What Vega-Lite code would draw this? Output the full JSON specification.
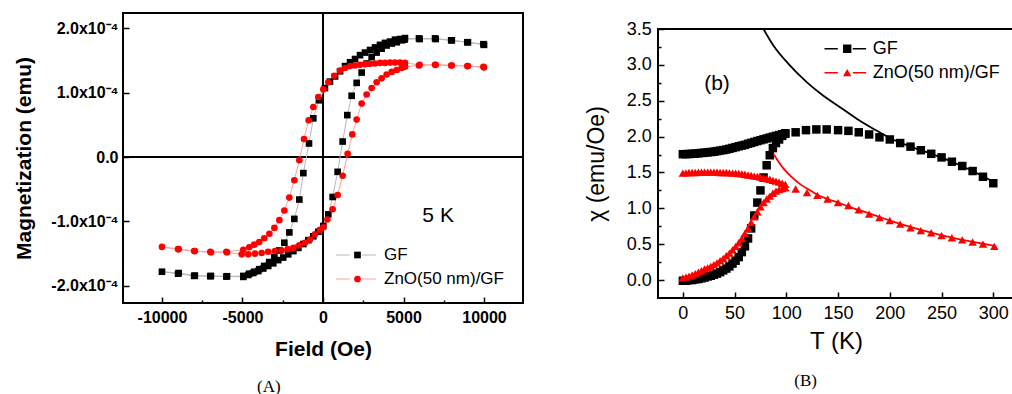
{
  "$schema": "https://vega.github.io/schema/vega-lite/v6.json",
  "padding": {"left": 12, "top": 11, "right": 0, "bottom": 0},
  "background": "white",
  "spacing": 59,
  "resolve": {"scale": {"color": "independent", "shape": "independent", "stroke": "independent"}, "legend": {"color": "independent", "stroke": "independent", "shape": "independent"}},
  "config": {
    "view": {"stroke": "black", "strokeWidth": 2},
    "axis": {"domain": false, "grid": false, "tickColor": "black", "tickWidth": 1.5, "labelColor": "black", "titleColor": "black", "labelFont": "Liberation Sans", "titleFont": "Liberation Sans"},
    "legend": {"labelFont": "Liberation Sans", "labelColor": "black"},
    "text": {"font": "Liberation Sans", "color": "black"},
    "title": {"font": "Liberation Serif", "color": "black"}
  },
  "hconcat": [
    {
      "width": 400,
      "height": 290,
      "title": {"text": "(A)", "orient": "bottom", "anchor": "middle", "frame": "bounds", "font": "Liberation Serif", "fontSize": 17, "fontWeight": "normal", "offset": 20},
      "data": {"values": [
        {"s":"GF","i":0,"H":10000,"M":1.74e-4},{"s":"GF","i":1,"H":9000,"M":1.78e-4},{"s":"GF","i":2,"H":8000,"M":1.81e-4},{"s":"GF","i":3,"H":7000,"M":1.83e-4},{"s":"GF","i":4,"H":6000,"M":1.83e-4},
        {"s":"GF","i":5,"H":5090,"M":1.845e-4},{"s":"GF","i":6,"H":4780,"M":1.83e-4},{"s":"GF","i":7,"H":4470,"M":1.82e-4},{"s":"GF","i":8,"H":4160,"M":1.79e-4},{"s":"GF","i":9,"H":3850,"M":1.77e-4},
        {"s":"GF","i":10,"H":3540,"M":1.74e-4},{"s":"GF","i":11,"H":3230,"M":1.70e-4},{"s":"GF","i":12,"H":2920,"M":1.66e-4},{"s":"GF","i":13,"H":2610,"M":1.62e-4},{"s":"GF","i":14,"H":2300,"M":1.58e-4},
        {"s":"GF","i":15,"H":1990,"M":1.52e-4},{"s":"GF","i":16,"H":1680,"M":1.47e-4},{"s":"GF","i":17,"H":1370,"M":1.41e-4},{"s":"GF","i":18,"H":1060,"M":1.33e-4},{"s":"GF","i":19,"H":750,"M":1.25e-4},
        {"s":"GF","i":20,"H":430,"M":1.17e-4},{"s":"GF","i":21,"H":120,"M":1.07e-4},{"s":"GF","i":22,"H":-250,"M":0.88e-4},{"s":"GF","i":23,"H":-600,"M":0.60e-4},{"s":"GF","i":24,"H":-870,"M":0.21e-4},
        {"s":"GF","i":25,"H":-1220,"M":-0.25e-4},{"s":"GF","i":26,"H":-1470,"M":-0.66e-4},{"s":"GF","i":27,"H":-1780,"M":-0.96e-4},{"s":"GF","i":28,"H":-2090,"M":-1.17e-4},{"s":"GF","i":29,"H":-2400,"M":-1.33e-4},
        {"s":"GF","i":30,"H":-2710,"M":-1.45e-4},{"s":"GF","i":31,"H":-3020,"M":-1.55e-4},{"s":"GF","i":32,"H":-3340,"M":-1.63e-4},{"s":"GF","i":33,"H":-3650,"M":-1.69e-4},{"s":"GF","i":34,"H":-3960,"M":-1.74e-4},
        {"s":"GF","i":35,"H":-4270,"M":-1.78e-4},{"s":"GF","i":36,"H":-4580,"M":-1.81e-4},{"s":"GF","i":37,"H":-4950,"M":-1.845e-4},{"s":"GF","i":38,"H":-6000,"M":-1.855e-4},{"s":"GF","i":39,"H":-7000,"M":-1.85e-4},
        {"s":"GF","i":40,"H":-8000,"M":-1.845e-4},{"s":"GF","i":41,"H":-9000,"M":-1.81e-4},{"s":"GF","i":42,"H":-10000,"M":-1.78e-4},{"s":"GF","i":43,"H":-8960,"M":-1.80e-4},{"s":"GF","i":44,"H":-7960,"M":-1.84e-4},
        {"s":"GF","i":45,"H":-6960,"M":-1.845e-4},{"s":"GF","i":46,"H":-5960,"M":-1.85e-4},{"s":"GF","i":47,"H":-4950,"M":-1.86e-4},{"s":"GF","i":48,"H":-4640,"M":-1.83e-4},{"s":"GF","i":49,"H":-4330,"M":-1.80e-4},
        {"s":"GF","i":50,"H":-4020,"M":-1.77e-4},{"s":"GF","i":51,"H":-3710,"M":-1.73e-4},{"s":"GF","i":52,"H":-3400,"M":-1.69e-4},{"s":"GF","i":53,"H":-3090,"M":-1.65e-4},{"s":"GF","i":54,"H":-2780,"M":-1.60e-4},
        {"s":"GF","i":55,"H":-2470,"M":-1.56e-4},{"s":"GF","i":56,"H":-2160,"M":-1.51e-4},{"s":"GF","i":57,"H":-1840,"M":-1.46e-4},{"s":"GF","i":58,"H":-1530,"M":-1.41e-4},{"s":"GF","i":59,"H":-1220,"M":-1.35e-4},
        {"s":"GF","i":60,"H":-910,"M":-1.29e-4},{"s":"GF","i":61,"H":-600,"M":-1.23e-4},{"s":"GF","i":62,"H":-290,"M":-1.16e-4},{"s":"GF","i":63,"H":20,"M":-1.07e-4},{"s":"GF","i":64,"H":330,"M":-0.89e-4},
        {"s":"GF","i":65,"H":600,"M":-0.62e-4},{"s":"GF","i":66,"H":910,"M":-0.23e-4},{"s":"GF","i":67,"H":1220,"M":0.24e-4},{"s":"GF","i":68,"H":1510,"M":0.65e-4},{"s":"GF","i":69,"H":1780,"M":0.95e-4},
        {"s":"GF","i":70,"H":2090,"M":1.15e-4},{"s":"GF","i":71,"H":2400,"M":1.31e-4},{"s":"GF","i":72,"H":2710,"M":1.45e-4},{"s":"GF","i":73,"H":3020,"M":1.55e-4},{"s":"GF","i":74,"H":3330,"M":1.62e-4},
        {"s":"GF","i":75,"H":3640,"M":1.68e-4},{"s":"GF","i":76,"H":3950,"M":1.73e-4},{"s":"GF","i":77,"H":4270,"M":1.76e-4},{"s":"GF","i":78,"H":4580,"M":1.78e-4},{"s":"GF","i":79,"H":4890,"M":1.81e-4},
        {"s":"GF","i":80,"H":5060,"M":1.82e-4},{"s":"GF","i":81,"H":5960,"M":1.84e-4},{"s":"GF","i":82,"H":6960,"M":1.84e-4},{"s":"GF","i":83,"H":7960,"M":1.81e-4},{"s":"GF","i":84,"H":8960,"M":1.78e-4},
        {"s":"GF","i":85,"H":9960,"M":1.75e-4},
        {"s":"ZnO(50 nm)/GF","i":0,"H":10000,"M":1.39e-4},{"s":"ZnO(50 nm)/GF","i":1,"H":9000,"M":1.41e-4},{"s":"ZnO(50 nm)/GF","i":2,"H":8000,"M":1.42e-4},{"s":"ZnO(50 nm)/GF","i":3,"H":7000,"M":1.43e-4},{"s":"ZnO(50 nm)/GF","i":4,"H":6000,"M":1.43e-4},
        {"s":"ZnO(50 nm)/GF","i":5,"H":5090,"M":1.46e-4},{"s":"ZnO(50 nm)/GF","i":6,"H":4780,"M":1.465e-4},{"s":"ZnO(50 nm)/GF","i":7,"H":4470,"M":1.465e-4},{"s":"ZnO(50 nm)/GF","i":8,"H":4160,"M":1.465e-4},{"s":"ZnO(50 nm)/GF","i":9,"H":3850,"M":1.46e-4},
        {"s":"ZnO(50 nm)/GF","i":10,"H":3540,"M":1.46e-4},{"s":"ZnO(50 nm)/GF","i":11,"H":3230,"M":1.45e-4},{"s":"ZnO(50 nm)/GF","i":12,"H":2920,"M":1.445e-4},{"s":"ZnO(50 nm)/GF","i":13,"H":2610,"M":1.44e-4},{"s":"ZnO(50 nm)/GF","i":14,"H":2300,"M":1.43e-4},
        {"s":"ZnO(50 nm)/GF","i":15,"H":1990,"M":1.42e-4},{"s":"ZnO(50 nm)/GF","i":16,"H":1680,"M":1.41e-4},{"s":"ZnO(50 nm)/GF","i":17,"H":1370,"M":1.38e-4},{"s":"ZnO(50 nm)/GF","i":18,"H":1060,"M":1.34e-4},{"s":"ZnO(50 nm)/GF","i":19,"H":700,"M":1.26e-4},
        {"s":"ZnO(50 nm)/GF","i":20,"H":330,"M":1.16e-4},{"s":"ZnO(50 nm)/GF","i":21,"H":20,"M":1.05e-4},{"s":"ZnO(50 nm)/GF","i":22,"H":-290,"M":0.93e-4},{"s":"ZnO(50 nm)/GF","i":23,"H":-600,"M":0.775e-4},{"s":"ZnO(50 nm)/GF","i":24,"H":-890,"M":0.57e-4},
        {"s":"ZnO(50 nm)/GF","i":25,"H":-1180,"M":0.28e-4},{"s":"ZnO(50 nm)/GF","i":26,"H":-1470,"M":-0.05e-4},{"s":"ZnO(50 nm)/GF","i":27,"H":-1780,"M":-0.36e-4},{"s":"ZnO(50 nm)/GF","i":28,"H":-2090,"M":-0.63e-4},{"s":"ZnO(50 nm)/GF","i":29,"H":-2400,"M":-0.83e-4},
        {"s":"ZnO(50 nm)/GF","i":30,"H":-2710,"M":-0.98e-4},{"s":"ZnO(50 nm)/GF","i":31,"H":-3020,"M":-1.10e-4},{"s":"ZnO(50 nm)/GF","i":32,"H":-3330,"M":-1.19e-4},{"s":"ZnO(50 nm)/GF","i":33,"H":-3650,"M":-1.26e-4},{"s":"ZnO(50 nm)/GF","i":34,"H":-3960,"M":-1.32e-4},
        {"s":"ZnO(50 nm)/GF","i":35,"H":-4270,"M":-1.36e-4},{"s":"ZnO(50 nm)/GF","i":36,"H":-4580,"M":-1.40e-4},{"s":"ZnO(50 nm)/GF","i":37,"H":-4950,"M":-1.44e-4},{"s":"ZnO(50 nm)/GF","i":38,"H":-6000,"M":-1.47e-4},{"s":"ZnO(50 nm)/GF","i":39,"H":-7000,"M":-1.47e-4},
        {"s":"ZnO(50 nm)/GF","i":40,"H":-8000,"M":-1.46e-4},{"s":"ZnO(50 nm)/GF","i":41,"H":-9000,"M":-1.43e-4},{"s":"ZnO(50 nm)/GF","i":42,"H":-10000,"M":-1.395e-4},{"s":"ZnO(50 nm)/GF","i":43,"H":-8960,"M":-1.43e-4},{"s":"ZnO(50 nm)/GF","i":44,"H":-7960,"M":-1.46e-4},
        {"s":"ZnO(50 nm)/GF","i":45,"H":-6960,"M":-1.48e-4},{"s":"ZnO(50 nm)/GF","i":46,"H":-5960,"M":-1.48e-4},{"s":"ZnO(50 nm)/GF","i":47,"H":-5050,"M":-1.51e-4},{"s":"ZnO(50 nm)/GF","i":48,"H":-4640,"M":-1.51e-4},{"s":"ZnO(50 nm)/GF","i":49,"H":-4220,"M":-1.50e-4},
        {"s":"ZnO(50 nm)/GF","i":50,"H":-3810,"M":-1.49e-4},{"s":"ZnO(50 nm)/GF","i":51,"H":-3400,"M":-1.47e-4},{"s":"ZnO(50 nm)/GF","i":52,"H":-2980,"M":-1.46e-4},{"s":"ZnO(50 nm)/GF","i":53,"H":-2570,"M":-1.45e-4},{"s":"ZnO(50 nm)/GF","i":54,"H":-2190,"M":-1.43e-4},
        {"s":"ZnO(50 nm)/GF","i":55,"H":-1840,"M":-1.41e-4},{"s":"ZnO(50 nm)/GF","i":56,"H":-1470,"M":-1.37e-4},{"s":"ZnO(50 nm)/GF","i":57,"H":-1120,"M":-1.33e-4},{"s":"ZnO(50 nm)/GF","i":58,"H":-810,"M":-1.28e-4},{"s":"ZnO(50 nm)/GF","i":59,"H":-500,"M":-1.20e-4},
        {"s":"ZnO(50 nm)/GF","i":60,"H":-190,"M":-1.13e-4},{"s":"ZnO(50 nm)/GF","i":61,"H":20,"M":-1.09e-4},{"s":"ZnO(50 nm)/GF","i":62,"H":270,"M":-0.97e-4},{"s":"ZnO(50 nm)/GF","i":63,"H":600,"M":-0.81e-4},{"s":"ZnO(50 nm)/GF","i":64,"H":910,"M":-0.59e-4},
        {"s":"ZnO(50 nm)/GF","i":65,"H":1220,"M":-0.29e-4},{"s":"ZnO(50 nm)/GF","i":66,"H":1530,"M":0.05e-4},{"s":"ZnO(50 nm)/GF","i":67,"H":1820,"M":0.35e-4},{"s":"ZnO(50 nm)/GF","i":68,"H":2090,"M":0.58e-4},{"s":"ZnO(50 nm)/GF","i":69,"H":2400,"M":0.83e-4},
        {"s":"ZnO(50 nm)/GF","i":70,"H":2710,"M":0.97e-4},{"s":"ZnO(50 nm)/GF","i":71,"H":3020,"M":1.07e-4},{"s":"ZnO(50 nm)/GF","i":72,"H":3330,"M":1.16e-4},{"s":"ZnO(50 nm)/GF","i":73,"H":3640,"M":1.22e-4},{"s":"ZnO(50 nm)/GF","i":74,"H":3950,"M":1.28e-4},
        {"s":"ZnO(50 nm)/GF","i":75,"H":4270,"M":1.32e-4},{"s":"ZnO(50 nm)/GF","i":76,"H":4580,"M":1.35e-4},{"s":"ZnO(50 nm)/GF","i":77,"H":4890,"M":1.38e-4},{"s":"ZnO(50 nm)/GF","i":78,"H":5090,"M":1.40e-4},{"s":"ZnO(50 nm)/GF","i":79,"H":5960,"M":1.42e-4},
        {"s":"ZnO(50 nm)/GF","i":80,"H":6960,"M":1.43e-4},{"s":"ZnO(50 nm)/GF","i":81,"H":7960,"M":1.42e-4},{"s":"ZnO(50 nm)/GF","i":82,"H":8960,"M":1.41e-4},{"s":"ZnO(50 nm)/GF","i":83,"H":9960,"M":1.40e-4}
      ]},
      "layer": [
        {
          "data": {"values": [{"H": 0}]},
          "mark": {"type": "rule", "color": "black", "strokeWidth": 2},
          "encoding": {"x": {"field": "H", "type": "quantitative", "scale": {"domain": [-12420, 12420], "nice": false, "zero": false}}}
        },
        {
          "data": {"values": [{"M": 0}]},
          "mark": {"type": "rule", "color": "black", "strokeWidth": 2},
          "encoding": {"y": {"field": "M", "type": "quantitative", "scale": {"domain": [-2.265e-4, 2.234e-4], "nice": false, "zero": false}}}
        },
        {
          "mark": {"type": "line", "strokeWidth": 1, "clip": true},
          "encoding": {
            "x": {"field": "H", "type": "quantitative", "scale": {"domain": [-12420, 12420], "nice": false, "zero": false},
              "axis": {"title": "Field (Oe)", "values": [-10000, -7500, -5000, -2500, 0, 2500, 5000, 7500, 10000],
                "labelExpr": "datum.value % 5000 == 0 ? (datum.value < 0 ? '-' : '') + format(abs(datum.value), 'd') : ''",
                "tickSize": {"condition": {"test": "datum.value % 5000 == 0", "value": -6}, "value": -3},
                "labelFontSize": 16, "labelFontWeight": "bold", "labelPadding": 12, "labelOverlap": false, "labelFlush": false,
                "titleFontSize": 21, "titleFontWeight": "bold", "titlePadding": 10}},
            "y": {"field": "M", "type": "quantitative", "scale": {"domain": [-2.265e-4, 2.234e-4], "nice": false, "zero": false},
              "axis": {"title": "Magnetization (emu)", "values": [-2e-4, -1.5e-4, -1e-4, -5e-5, 0, 5e-5, 1e-4, 1.5e-4, 2e-4],
                "labelExpr": "round(datum.value*2e4) % 2 == 0 ? (round(datum.value*1e4) == 0 ? '0.0' : (datum.value < 0 ? '-' : '') + format(abs(datum.value)*1e4, '.1f') + 'x10⁻⁴') : ''",
                "tickSize": {"condition": {"test": "round(datum.value*2e4) % 2 == 0", "value": -6}, "value": -3},
                "labelFontSize": 16, "labelFontWeight": "bold", "labelPadding": 11, "labelOverlap": false, "labelFlush": false,
                "titleFontSize": 21, "titleFontWeight": "bold", "titlePadding": 16}},
            "order": {"field": "i", "type": "quantitative"},
            "stroke": {"field": "s", "type": "nominal", "scale": {"range": ["#b8b8b8", "#ffa0a0"]},
              "legend": {"title": null, "orient": "none", "direction": "vertical", "legendX": 212.3, "legendY": 236, "padding": 0,
                "symbolType": "stroke", "symbolSize": 1600, "symbolStrokeWidth": 1, "symbolDash": [14, 12],
                "labelExpr": "''", "labelFontSize": 1, "labelOpacity": 0, "labelOffset": 10, "rowPadding": 12, "clipHeight": 12}}
          }
        },
        {
          "mark": {"type": "point", "filled": true, "opacity": 1, "size": 44},
          "encoding": {
            "x": {"field": "H", "type": "quantitative", "scale": {"domain": [-12420, 12420], "nice": false, "zero": false}},
            "y": {"field": "M", "type": "quantitative", "scale": {"domain": [-2.265e-4, 2.234e-4], "nice": false, "zero": false}},
            "shape": {"field": "s", "type": "nominal", "scale": {"domain": ["GF", "ZnO(50 nm)/GF"], "range": ["square", "circle"]},
              "legend": {"title": null, "orient": "none", "direction": "vertical", "legendX": 226, "legendY": 236, "padding": 0,
                "symbolSize": 45, "labelOffset": 18, "labelFontSize": 17, "rowPadding": 7, "clipHeight": 12}},
            "color": {"field": "s", "type": "nominal", "scale": {"domain": ["GF", "ZnO(50 nm)/GF"], "range": ["black", "#ff0000"]},
              "legend": {"title": null, "orient": "none", "direction": "vertical", "legendX": 226, "legendY": 236, "padding": 0,
                "symbolSize": 45, "labelOffset": 18, "labelFontSize": 17, "rowPadding": 7, "clipHeight": 12}}
          }
        },
        {
          "data": {"values": [{"H": 7150, "M": -0.915e-4, "label": "5 K"}]},
          "mark": {"type": "text", "fontSize": 21, "align": "center", "baseline": "middle"},
          "encoding": {
            "x": {"field": "H", "type": "quantitative", "scale": {"domain": [-12420, 12420], "nice": false, "zero": false}},
            "y": {"field": "M", "type": "quantitative", "scale": {"domain": [-2.265e-4, 2.234e-4], "nice": false, "zero": false}},
            "text": {"field": "label"}
          }
        }
      ]
    },
    {
      "spacing": 0,
      "resolve": {"scale": {"color": "independent", "stroke": "independent", "shape": "independent"}, "legend": {"color": "independent", "stroke": "independent", "shape": "independent"}},
      "vconcat": [
        {
          "width": 1,
          "height": 5,
          "view": {"stroke": null},
          "data": {"values": [{"a": 1}]},
          "mark": {"type": "point", "opacity": 0},
          "encoding": {}
        },
        {
          "width": 356,
          "height": 269,
          "title": {"text": "(B)", "orient": "bottom", "anchor": "middle", "frame": "bounds", "font": "Liberation Serif", "fontSize": 17, "fontWeight": "normal", "offset": 20, "dx": 6},
          "resolve": {"axis": {"y": "independent"}},
          "data": {"values": [
            {"s":"GF","T":0,"c":1.755},{"s":"GF","T":3,"c":1.755},{"s":"GF","T":6,"c":1.758},{"s":"GF","T":9,"c":1.76},{"s":"GF","T":12,"c":1.763},{"s":"GF","T":15,"c":1.767},{"s":"GF","T":18,"c":1.772},{"s":"GF","T":21,"c":1.776},{"s":"GF","T":24,"c":1.78},{"s":"GF","T":27,"c":1.785},
            {"s":"GF","T":30,"c":1.79},{"s":"GF","T":33,"c":1.797},{"s":"GF","T":36,"c":1.805},{"s":"GF","T":39,"c":1.812},{"s":"GF","T":42,"c":1.82},{"s":"GF","T":45,"c":1.83},{"s":"GF","T":48,"c":1.842},{"s":"GF","T":51,"c":1.853},{"s":"GF","T":54,"c":1.865},{"s":"GF","T":57,"c":1.875},
            {"s":"GF","T":60,"c":1.885},{"s":"GF","T":63,"c":1.9},{"s":"GF","T":66,"c":1.912},{"s":"GF","T":69,"c":1.925},{"s":"GF","T":72,"c":1.938},{"s":"GF","T":75,"c":1.95},{"s":"GF","T":78,"c":1.962},{"s":"GF","T":81,"c":1.974},{"s":"GF","T":84,"c":1.986},{"s":"GF","T":87,"c":1.998},
            {"s":"GF","T":90,"c":2.01},{"s":"GF","T":93,"c":2.022},{"s":"GF","T":96,"c":2.034},{"s":"GF","T":99,"c":2.046},
            {"s":"GF","T":0,"c":-0.01},{"s":"GF","T":3,"c":-0.01},{"s":"GF","T":6,"c":0.0},{"s":"GF","T":9,"c":0.0},{"s":"GF","T":12,"c":0.01},{"s":"GF","T":15,"c":0.015},{"s":"GF","T":18,"c":0.025},{"s":"GF","T":21,"c":0.035},{"s":"GF","T":24,"c":0.05},{"s":"GF","T":27,"c":0.06},
            {"s":"GF","T":30,"c":0.075},{"s":"GF","T":33,"c":0.09},{"s":"GF","T":36,"c":0.11},{"s":"GF","T":39,"c":0.135},{"s":"GF","T":42,"c":0.16},{"s":"GF","T":45,"c":0.19},{"s":"GF","T":48,"c":0.23},{"s":"GF","T":51,"c":0.27},{"s":"GF","T":54,"c":0.32},{"s":"GF","T":57,"c":0.39},
            {"s":"GF","T":60,"c":0.47},{"s":"GF","T":63,"c":0.58},{"s":"GF","T":66,"c":0.72},{"s":"GF","T":69,"c":0.9},{"s":"GF","T":72,"c":1.08},{"s":"GF","T":75,"c":1.25},{"s":"GF","T":78,"c":1.43},{"s":"GF","T":81,"c":1.6},{"s":"GF","T":84,"c":1.74},{"s":"GF","T":87,"c":1.84},
            {"s":"GF","T":90,"c":1.91},{"s":"GF","T":93,"c":1.96},{"s":"GF","T":96,"c":2.01},{"s":"GF","T":99,"c":2.04},
            {"s":"GF","T":109,"c":2.06},{"s":"GF","T":119,"c":2.09},{"s":"GF","T":129,"c":2.1},{"s":"GF","T":139,"c":2.1},{"s":"GF","T":150,"c":2.09},{"s":"GF","T":160,"c":2.08},{"s":"GF","T":170,"c":2.06},{"s":"GF","T":180,"c":2.03},{"s":"GF","T":190,"c":1.99},{"s":"GF","T":200,"c":1.96},
            {"s":"GF","T":210,"c":1.91},{"s":"GF","T":220,"c":1.86},{"s":"GF","T":230,"c":1.81},{"s":"GF","T":240,"c":1.76},{"s":"GF","T":250,"c":1.71},{"s":"GF","T":260,"c":1.65},{"s":"GF","T":270,"c":1.59},{"s":"GF","T":280,"c":1.52},{"s":"GF","T":290,"c":1.44},{"s":"GF","T":300,"c":1.35},
            {"s":"ZnO(50 nm)/GF","T":0,"c":1.49},{"s":"ZnO(50 nm)/GF","T":3,"c":1.495},{"s":"ZnO(50 nm)/GF","T":6,"c":1.5},{"s":"ZnO(50 nm)/GF","T":9,"c":1.5},{"s":"ZnO(50 nm)/GF","T":12,"c":1.5},{"s":"ZnO(50 nm)/GF","T":15,"c":1.505},{"s":"ZnO(50 nm)/GF","T":18,"c":1.505},{"s":"ZnO(50 nm)/GF","T":21,"c":1.505},{"s":"ZnO(50 nm)/GF","T":24,"c":1.505},{"s":"ZnO(50 nm)/GF","T":27,"c":1.505},
            {"s":"ZnO(50 nm)/GF","T":30,"c":1.505},{"s":"ZnO(50 nm)/GF","T":33,"c":1.505},{"s":"ZnO(50 nm)/GF","T":36,"c":1.5},{"s":"ZnO(50 nm)/GF","T":39,"c":1.5},{"s":"ZnO(50 nm)/GF","T":42,"c":1.5},{"s":"ZnO(50 nm)/GF","T":45,"c":1.495},{"s":"ZnO(50 nm)/GF","T":48,"c":1.49},{"s":"ZnO(50 nm)/GF","T":51,"c":1.49},{"s":"ZnO(50 nm)/GF","T":54,"c":1.485},{"s":"ZnO(50 nm)/GF","T":57,"c":1.48},
            {"s":"ZnO(50 nm)/GF","T":60,"c":1.475},{"s":"ZnO(50 nm)/GF","T":63,"c":1.465},{"s":"ZnO(50 nm)/GF","T":66,"c":1.46},{"s":"ZnO(50 nm)/GF","T":69,"c":1.45},{"s":"ZnO(50 nm)/GF","T":72,"c":1.445},{"s":"ZnO(50 nm)/GF","T":75,"c":1.435},{"s":"ZnO(50 nm)/GF","T":78,"c":1.425},{"s":"ZnO(50 nm)/GF","T":81,"c":1.415},{"s":"ZnO(50 nm)/GF","T":84,"c":1.405},{"s":"ZnO(50 nm)/GF","T":87,"c":1.39},
            {"s":"ZnO(50 nm)/GF","T":90,"c":1.38},{"s":"ZnO(50 nm)/GF","T":93,"c":1.365},{"s":"ZnO(50 nm)/GF","T":96,"c":1.35},{"s":"ZnO(50 nm)/GF","T":99,"c":1.335},
            {"s":"ZnO(50 nm)/GF","T":0,"c":0.03},{"s":"ZnO(50 nm)/GF","T":3,"c":0.04},{"s":"ZnO(50 nm)/GF","T":6,"c":0.055},{"s":"ZnO(50 nm)/GF","T":9,"c":0.07},{"s":"ZnO(50 nm)/GF","T":12,"c":0.09},{"s":"ZnO(50 nm)/GF","T":15,"c":0.11},{"s":"ZnO(50 nm)/GF","T":18,"c":0.13},{"s":"ZnO(50 nm)/GF","T":21,"c":0.155},{"s":"ZnO(50 nm)/GF","T":24,"c":0.17},{"s":"ZnO(50 nm)/GF","T":27,"c":0.19},
            {"s":"ZnO(50 nm)/GF","T":30,"c":0.215},{"s":"ZnO(50 nm)/GF","T":33,"c":0.24},{"s":"ZnO(50 nm)/GF","T":36,"c":0.27},{"s":"ZnO(50 nm)/GF","T":39,"c":0.3},{"s":"ZnO(50 nm)/GF","T":42,"c":0.34},{"s":"ZnO(50 nm)/GF","T":45,"c":0.375},{"s":"ZnO(50 nm)/GF","T":48,"c":0.42},{"s":"ZnO(50 nm)/GF","T":51,"c":0.47},{"s":"ZnO(50 nm)/GF","T":54,"c":0.52},{"s":"ZnO(50 nm)/GF","T":57,"c":0.58},
            {"s":"ZnO(50 nm)/GF","T":60,"c":0.65},{"s":"ZnO(50 nm)/GF","T":63,"c":0.72},{"s":"ZnO(50 nm)/GF","T":66,"c":0.8},{"s":"ZnO(50 nm)/GF","T":69,"c":0.88},{"s":"ZnO(50 nm)/GF","T":72,"c":0.95},{"s":"ZnO(50 nm)/GF","T":75,"c":1.02},{"s":"ZnO(50 nm)/GF","T":78,"c":1.08},{"s":"ZnO(50 nm)/GF","T":81,"c":1.13},{"s":"ZnO(50 nm)/GF","T":84,"c":1.17},{"s":"ZnO(50 nm)/GF","T":87,"c":1.21},
            {"s":"ZnO(50 nm)/GF","T":90,"c":1.24},{"s":"ZnO(50 nm)/GF","T":93,"c":1.26},{"s":"ZnO(50 nm)/GF","T":96,"c":1.275},{"s":"ZnO(50 nm)/GF","T":99,"c":1.285},
            {"s":"ZnO(50 nm)/GF","T":109,"c":1.27},{"s":"ZnO(50 nm)/GF","T":120,"c":1.22},{"s":"ZnO(50 nm)/GF","T":130,"c":1.18},{"s":"ZnO(50 nm)/GF","T":140,"c":1.13},{"s":"ZnO(50 nm)/GF","T":150,"c":1.08},{"s":"ZnO(50 nm)/GF","T":160,"c":1.04},{"s":"ZnO(50 nm)/GF","T":170,"c":0.98},{"s":"ZnO(50 nm)/GF","T":180,"c":0.92},{"s":"ZnO(50 nm)/GF","T":190,"c":0.87},{"s":"ZnO(50 nm)/GF","T":200,"c":0.83},
            {"s":"ZnO(50 nm)/GF","T":210,"c":0.78},{"s":"ZnO(50 nm)/GF","T":220,"c":0.73},{"s":"ZnO(50 nm)/GF","T":230,"c":0.69},{"s":"ZnO(50 nm)/GF","T":240,"c":0.66},{"s":"ZnO(50 nm)/GF","T":250,"c":0.62},{"s":"ZnO(50 nm)/GF","T":260,"c":0.59},{"s":"ZnO(50 nm)/GF","T":270,"c":0.56},{"s":"ZnO(50 nm)/GF","T":280,"c":0.53},{"s":"ZnO(50 nm)/GF","T":290,"c":0.5},{"s":"ZnO(50 nm)/GF","T":301,"c":0.47}
          ]},
          "layer": [
            {
              "mark": {"type": "point", "filled": true, "opacity": 1, "size": 72},
              "encoding": {
                "x": {"field": "T", "type": "quantitative", "scale": {"domain": [-24, 320], "nice": false, "zero": false},
                  "axis": {"title": "T (K)", "values": [0, 25, 50, 75, 100, 125, 150, 175, 200, 225, 250, 275, 300],
                    "labelExpr": "datum.value % 50 == 0 ? format(datum.value, 'd') : ''",
                    "tickSize": {"condition": {"test": "datum.value % 50 == 0", "value": -6}, "value": -3},
                    "labelFontSize": 18, "labelPadding": 12, "labelOverlap": false, "labelFlush": false,
                    "titleFontSize": 24, "titleFontWeight": "normal", "titlePadding": 7}},
                "y": {"field": "c", "type": "quantitative", "scale": {"domain": [-0.25, 3.5], "nice": false, "zero": false},
                  "axis": {"title": "χ (emu/Oe)", "orient": "left", "values": [0, 0.5, 1, 1.5, 2, 2.5, 3, 3.5],
                    "format": ".1f", "tickSize": -6,
                    "labelFontSize": 18, "labelPadding": 12.7, "labelOverlap": false, "labelFlush": false,
                    "titleFontSize": 23, "titleFontWeight": "normal", "titlePadding": 18}},
                "shape": {"field": "s", "type": "nominal", "scale": {"domain": ["GF", "ZnO(50 nm)/GF"], "range": ["square", "triangle-up"]},
                  "legend": {"title": null, "orient": "none", "direction": "vertical", "legendX": 180.2, "legendY": 13.7, "padding": 0,
                    "symbolSize": 70, "labelOffset": 16.5, "labelFontSize": 18, "rowPadding": 6, "clipHeight": 12}},
                "color": {"field": "s", "type": "nominal", "scale": {"domain": ["GF", "ZnO(50 nm)/GF"], "range": ["black", "#ff0000"]},
                  "legend": {"title": null, "orient": "none", "direction": "vertical", "legendX": 180.2, "legendY": 13.7, "padding": 0,
                    "symbolSize": 70, "labelOffset": 16.5, "labelFontSize": 18, "rowPadding": 6, "clipHeight": 12}}
              }
            },
            {
              "data": {"values": [
                {"s":"GF","T":77.9,"c":3.5},{"s":"GF","T":87.5,"c":3.27},{"s":"GF","T":103.6,"c":2.99},{"s":"GF","T":119.7,"c":2.76},{"s":"GF","T":135.8,"c":2.57},{"s":"GF","T":151.9,"c":2.41},{"s":"GF","T":168,"c":2.25},{"s":"GF","T":184,"c":2.11},{"s":"GF","T":200,"c":1.98},{"s":"GF","T":220,"c":1.86},{"s":"GF","T":240,"c":1.76},{"s":"GF","T":260,"c":1.65},{"s":"GF","T":280,"c":1.52},{"s":"GF","T":300,"c":1.37},
                {"s":"ZnO(50 nm)/GF","T":87.5,"c":1.76},{"s":"ZnO(50 nm)/GF","T":92,"c":1.66},{"s":"ZnO(50 nm)/GF","T":97,"c":1.56},{"s":"ZnO(50 nm)/GF","T":102,"c":1.48},{"s":"ZnO(50 nm)/GF","T":108,"c":1.4},{"s":"ZnO(50 nm)/GF","T":115,"c":1.32},{"s":"ZnO(50 nm)/GF","T":122,"c":1.26},{"s":"ZnO(50 nm)/GF","T":130,"c":1.19},{"s":"ZnO(50 nm)/GF","T":140,"c":1.13},{"s":"ZnO(50 nm)/GF","T":150,"c":1.08},{"s":"ZnO(50 nm)/GF","T":165,"c":1.0},{"s":"ZnO(50 nm)/GF","T":180,"c":0.93},{"s":"ZnO(50 nm)/GF","T":200,"c":0.83},{"s":"ZnO(50 nm)/GF","T":230,"c":0.7},{"s":"ZnO(50 nm)/GF","T":260,"c":0.59},{"s":"ZnO(50 nm)/GF","T":300,"c":0.48}
              ]},
              "mark": {"type": "line", "strokeWidth": 1.8, "interpolate": "monotone", "clip": true},
              "encoding": {
                "x": {"field": "T", "type": "quantitative", "scale": {"domain": [-24, 320], "nice": false, "zero": false}},
                "y": {"field": "c", "type": "quantitative", "scale": {"domain": [-0.25, 3.5], "nice": false, "zero": false}, "axis": null},
                "stroke": {"field": "s", "type": "nominal", "scale": {"range": ["black", "#ff0000"]},
                  "legend": {"title": null, "orient": "none", "direction": "vertical", "legendX": 165.3, "legendY": 13.7, "padding": 0,
                    "symbolType": "stroke", "symbolSize": 1730, "symbolStrokeWidth": 1.5, "symbolDash": [13.3, 15],
                    "labelExpr": "''", "labelFontSize": 1, "labelOpacity": 0, "labelOffset": 10, "rowPadding": 12, "clipHeight": 12}}
              }
            },
            {
              "data": {"values": [{"T": 33, "c": 2.74, "label": "(b)"}]},
              "mark": {"type": "text", "fontSize": 21, "align": "center", "baseline": "middle"},
              "encoding": {
                "x": {"field": "T", "type": "quantitative", "scale": {"domain": [-24, 320], "nice": false, "zero": false}},
                "y": {"field": "c", "type": "quantitative", "scale": {"domain": [-0.25, 3.5], "nice": false, "zero": false},
                  "axis": {"orient": "left", "title": null, "values": [0.25, 0.75, 1.25, 1.75, 2.25, 2.75, 3.25], "labels": false, "tickSize": -3, "grid": false, "domain": false}},
                "text": {"field": "label"}
              }
            }
          ]
        }
      ]
    }
  ]
}
